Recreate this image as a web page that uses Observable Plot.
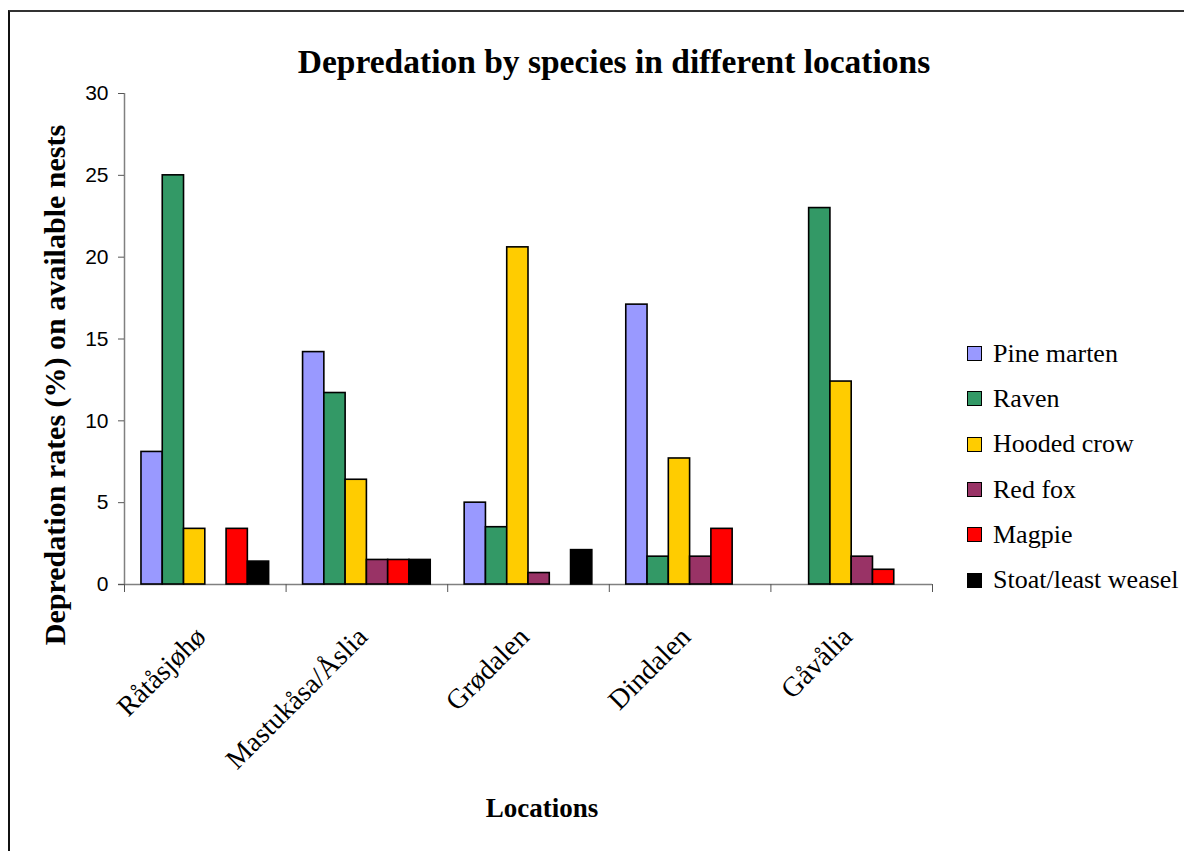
<!DOCTYPE html>
<html>
<head>
<meta charset="utf-8">
<script src="https://cdn.jsdelivr.net/npm/d3@7"></script>
<script src="https://cdn.jsdelivr.net/npm/@observablehq/plot@0.6"></script>
<style>
  body { margin: 0; background: #fff; }
  #wrap { position: relative; width: 1184px; height: 851px; overflow: hidden; background: #fff; }
  #border { position: absolute; left: 8px; top: 10px; width: 1300px; height: 1000px;
            border-left: 2px solid #111; border-top: 2px solid #333; }
  .serif { font-family: "Liberation Serif", "Times New Roman", Times, Tinos, "Nimbus Roman", "DejaVu Serif", serif; }
  #title { position: absolute; left: 614px; top: 43px; transform: translateX(-50%); white-space: nowrap;
           font-weight: bold; font-size: 33.5px; color: #000; }
  #ylabel { position: absolute; left: 55px; top: 385px; transform: translate(-50%, -50%) rotate(-90deg);
            white-space: nowrap; font-weight: bold; font-size: 30px; color: #000; }
  #xlabel { position: absolute; left: 542px; top: 808px; transform: translate(-50%, -50%); white-space: nowrap;
            font-weight: bold; font-size: 27px; color: #000; }
  #legend { position: absolute; left: 967px; top: 331px; font-size: 26px; font-weight: normal; color: #000; }
  .row { display: flex; align-items: center; height: 45.3px; white-space: nowrap; }
  .sw { width: 13px; height: 13px; border: 1.5px solid #000; margin-right: 11px; box-sizing: content-box; }
  #chart { position: absolute; left: 0; top: 0; }
</style>
</head>
<body>
<div id="wrap">
  <div id="border"></div>
  <div id="chart"></div>
  <div id="title" class="serif"></div>
  <div id="ylabel" class="serif"></div>
  <div id="xlabel" class="serif"></div>
  <div id="legend" class="serif"></div>
</div>
<script>
const titleText = "Depredation by species in different locations";
const yLabelText = "Depredation rates (%) on available nests";
const xLabelText = "Locations";

const locations = ["Råtåsjøhø", "Mastukåsa/Åslia", "Grødalen", "Dindalen", "Gåvålia"];
const species = ["Pine marten", "Raven", "Hooded crow", "Red fox", "Magpie", "Stoat/least weasel"];
const colors = ["#9999FF", "#339966", "#FFCC00", "#993366", "#FF0000", "#000000"];

// values per species, in location order
const pineMarten = [8.1, 14.2, 5.0, 17.1, 0];
const raven      = [25.0, 11.7, 3.5, 1.7, 23.0];
const hoodedCrow = [3.4, 6.4, 20.6, 7.7, 12.4];
const redFox     = [0, 1.5, 0.7, 1.7, 1.7];
const magpie     = [3.4, 1.5, 0, 3.4, 0.9];
const stoat      = [1.4, 1.5, 2.1, 0, 0];

const yTicks = [0, 5, 10, 15, 20, 25, 30];

const series = [pineMarten, raven, hoodedCrow, redFox, magpie, stoat];
const rows = [];
locations.forEach((loc, li) => {
  species.forEach((sp, si) => {
    rows.push({location: loc, li, species: sp, si, value: series[si][li]});
  });
});

// group layout within each location band (fractions of the band)
const groupPad = 0.105;
const groupWidth = 0.79;
const barW = groupWidth / species.length;

const serifFamily = "'Liberation Serif', 'Times New Roman', Times, Tinos, 'Nimbus Roman', 'DejaVu Serif', serif";

const plot = Plot.plot({
  width: 1184,
  height: 851,
  marginLeft: 124,
  marginRight: 252,
  marginTop: 93,
  marginBottom: 267,
  style: {background: "transparent", color: "#000"},
  x: {type: "linear", domain: [0, locations.length], axis: null},
  y: {domain: [0, 30], axis: null},
  color: {domain: species, range: colors},
  marks: [
    Plot.ruleX([0], {stroke: "#808080", strokeWidth: 1.5}),
    Plot.ruleY([0], {stroke: "#808080", strokeWidth: 1.5, insetLeft: -6}),
    Plot.axisY({ticks: yTicks, tickSize: 6, tickPadding: 10, fontSize: 21,
                fontFamily: "'Liberation Sans', Arial, sans-serif", stroke: "#555", label: null,
                tickFormat: d => d}),
    Plot.axisX({ticks: d3.range(locations.length + 1), tickSize: 8, tickFormat: () => "",
                stroke: "#555", label: null}),
    Plot.rectY(rows.filter(d => d.value > 0), {
      x1: d => d.li + groupPad + d.si * barW,
      x2: d => d.li + groupPad + (d.si + 1) * barW,
      y: "value",
      fill: "species",
      stroke: "#000",
      strokeWidth: 1.6
    }),
    Plot.text(locations, {
      x: (d, i) => i + 0.5,
      frameAnchor: "bottom",
      text: d => d,
      rotate: -45,
      textAnchor: "end",
      lineAnchor: "top",
      dx: -12,
      dy: 40,
      fontSize: 28,
      fontFamily: serifFamily,
      fill: "#000"
    })
  ]
});
document.getElementById("chart").appendChild(plot);

document.getElementById("title").textContent = titleText;
document.getElementById("ylabel").textContent = yLabelText;
document.getElementById("xlabel").textContent = xLabelText;

const legend = document.getElementById("legend");
species.forEach((sp, i) => {
  const row = document.createElement("div");
  row.className = "row";
  const sw = document.createElement("div");
  sw.className = "sw";
  sw.style.background = colors[i];
  const label = document.createElement("span");
  label.textContent = sp;
  row.appendChild(sw);
  row.appendChild(label);
  legend.appendChild(row);
});
</script>
</body>
</html>
